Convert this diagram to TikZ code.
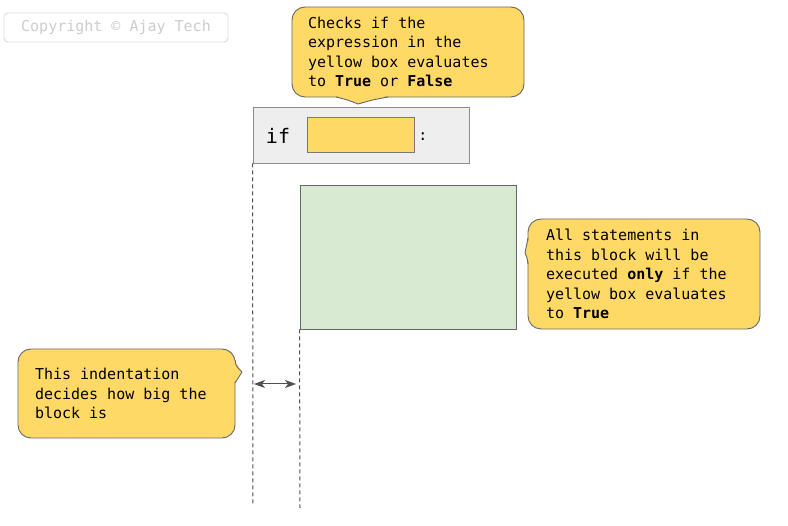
\documentclass[tikz,border=0pt]{standalone}
\usepackage{fontspec}
\setmonofont{DejaVu Sans Mono}
\usetikzlibrary{arrows.meta}
\definecolor{cyel}{HTML}{FFD966}
\definecolor{cgreen}{HTML}{D9EAD3}
\definecolor{cgray}{HTML}{EEEEEE}
\definecolor{cline}{HTML}{666666}
\definecolor{cdash}{HTML}{505050}
\newcommand\monosp{\spaceskip=0.602em\xspaceskip=0.602em\relax}
\tikzset{
  txt/.style={font=\ttfamily\fontsize{15}{19.5}\selectfont},
  callout/.style={txt, draw=cline, fill=cyel, line width=0.9pt, rounded corners=13pt,
    align=left, inner ysep=0pt, anchor=center},
  plainbox/.style={draw=cline, line width=0.9pt, inner sep=0pt},
  guide/.style={draw=cdash, line width=1pt, dash pattern=on 4pt off 3pt},
  ptr/.style={fill=cyel},
  ptredge/.style={draw=cline, line width=0.9pt, line join=round}
}
\begin{document}
\begin{tikzpicture}[x=1pt,y=-1pt]
\useasboundingbox[fill=white] (0,0) rectangle (788,526);

% copyright
\node[txt, draw={rgb,255:red,220;green,220;blue,220}, line width=0.9pt, rounded corners=4pt,
  text={rgb,255:red,205;green,205;blue,205}, minimum width=224, minimum height=29, inner sep=0pt]
  (copy) at (116,27.5) {Copyright © Ajay Tech};

% if box
\node[plainbox, draw={rgb,255:red,140;green,140;blue,140}, fill=cgray, minimum width=216, minimum height=56] (ifbox) at (361,135) {};
\node[font=\ttfamily\fontsize{20}{24}\selectfont, inner sep=0pt] (ifkw) at (278,136) {if};
\node[plainbox, draw={rgb,255:red,120;green,120;blue,120}, fill=cyel, minimum width=107, minimum height=35] (cond) at (360.5,134.5) {};
\node[txt, inner sep=0pt] (colon) at (423,137) {:};

% green block
\node[plainbox, fill=cgreen, minimum width=216, minimum height=144] (block) at (408,257) {};

% callout 1
\node[callout, minimum width=232, minimum height=90, inner xsep=16pt, text width=200pt] (c1) at (408,52)
  {\monosp Checks if the\\expression in the\\yellow box evaluates\\to \textbf{True} or \textbf{False}};
\coordinate (c1tip) at (358,104);
\fill[ptr] (334,95) -- (c1tip) -- (390,95) -- cycle;
\draw[ptredge] (336,97) .. controls (348,100) .. (c1tip) .. controls (372,100) .. (388,97);

% callout 2
\node[callout, minimum width=232, minimum height=110, inner xsep=18pt, text width=196pt] (c2) at (644,274)
  {\monosp All statements in\\this block will be\\executed \textbf{only} if the\\yellow box evaluates\\to \textbf{True}};
\coordinate (c2tip) at (525,253);
\fill[ptr] (530,236) -- (c2tip) -- (530,265) -- cycle;
\draw[ptredge] (528,238) .. controls (526,246) .. (c2tip) .. controls (527,257) .. (528,264);

% callout 3
\node[callout, minimum width=217, minimum height=89, inner xsep=17pt, text width=183pt] (c3) at (126.5,393.5)
  {\monosp This indentation\\decides how big the\\block is};
\coordinate (c3tip) at (242,372);
\fill[ptr] (233,358) -- (c3tip) -- (233,384) -- cycle;
\draw[ptredge] (235,360) .. controls (236,366) .. (c3tip) .. controls (238,378) .. (235,383);

% guides
\coordinate (g1end) at (253,505);
\coordinate (g2end) at (300,508);
\draw[guide] (ifbox.south west) -- (g1end);
\draw[guide] (block.south west) -- (g2end);

% indentation arrow
\coordinate (al) at (254,384);
\coordinate (ar) at (296,384);
\draw[draw=cdash, line width=1pt, {Stealth[length=11pt,width=8pt,inset=3pt]}-{Stealth[length=11pt,width=8pt,inset=3pt]}] (al) -- (ar);
\end{tikzpicture}
\end{document}
